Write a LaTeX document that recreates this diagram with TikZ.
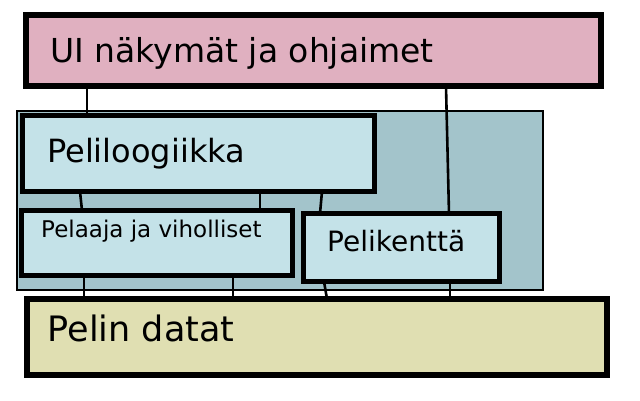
\documentclass[tikz,border=0pt]{standalone}
\usepackage{fontspec}
\setmainfont{DejaVu Sans}
\usetikzlibrary{positioning}
\definecolor{uipink}{RGB}{224,176,192}
\definecolor{coreblue}{RGB}{163,196,203}
\definecolor{partblue}{RGB}{196,226,232}
\definecolor{datayellow}{RGB}{224,223,178}
\newcommand{\fs}[1]{\fontsize{#1}{#1}\selectfont}

\begin{document}
\begin{tikzpicture}[x=1pt, y=-1pt,
 box/.style={draw,rectangle,inner sep=0pt,outer sep=0pt,line width=5pt},
 bigbox/.style={box,line width=6pt},
 lbl/.style={anchor=base west,inner sep=0pt},
 link/.style={line width=2.6pt}]
\useasboundingbox (0,0) rectangle (640,400);
\node[draw,fill=coreblue,line width=1.4pt,minimum width=526pt,minimum height=179pt,
 inner sep=0pt,outer sep=0pt] (core) at (280,200.5) {};
\node[bigbox,fill=uipink,minimum width=575pt,minimum height=71pt] (ui) at (313.5,50.5) {};
\node[box,fill=partblue,minimum width=352pt,minimum height=76pt] (logic) at (198.5,153.5) {};
\node[box,fill=partblue,minimum width=271pt,minimum height=65pt] (players) at (157,243) {};
\node[box,fill=partblue,minimum width=196pt,minimum height=68pt] (field) at (401.5,247.5) {};
\node[bigbox,fill=datayellow,minimum width=580pt,minimum height=76pt] (data) at (317,337) {};
\node[lbl] (uitext) at ([shift={(24pt,-47pt)}]ui.north west) {\fs{33}UI näkymät ja ohjaimet};
\node[lbl] (logictext) at ([shift={(24.5pt,-46.5pt)}]logic.north west) {\fs{32}Peliloogiikka};
\node[lbl] (playerstext) at ([shift={(19.5pt,-26.5pt)}]players.north west) {\fs{23}Pelaaja ja viholliset};
\node[lbl] (fieldtext) at ([shift={(23.5pt,-37.5pt)}]field.north west) {\fs{28}Pelikenttä};
\node[lbl] (datatext) at ([shift={(20.6pt,-42pt)}]data.north west) {\fs{35}Pelin datat};
\draw[link] ([xshift=61pt]ui.south west) -- ([xshift=64.5pt]logic.north west);
\draw[link] ([xshift=420pt]ui.south west) -- ([xshift=145.5pt]field.north west);
\draw[link] ([xshift=57.5pt]logic.south west) -- ([xshift=60.5pt]players.north west);
\draw[link] ([xshift=237.5pt]logic.south west) -- ([xshift=238.5pt]players.north west);
\draw[link] ([xshift=299.5pt]logic.south west) -- ([xshift=16.5pt]field.north west);
\draw[link] ([xshift=62.5pt]players.south west) -- ([xshift=57pt]data.north west);
\draw[link] ([xshift=211.5pt]players.south west) -- ([xshift=206pt]data.north west);
\draw[link] ([xshift=20.5pt]field.south west) -- ([xshift=300pt]data.north west);
\draw[link] ([xshift=146.5pt]field.south west) -- ([xshift=423pt]data.north west);
\end{tikzpicture}
\end{document}
